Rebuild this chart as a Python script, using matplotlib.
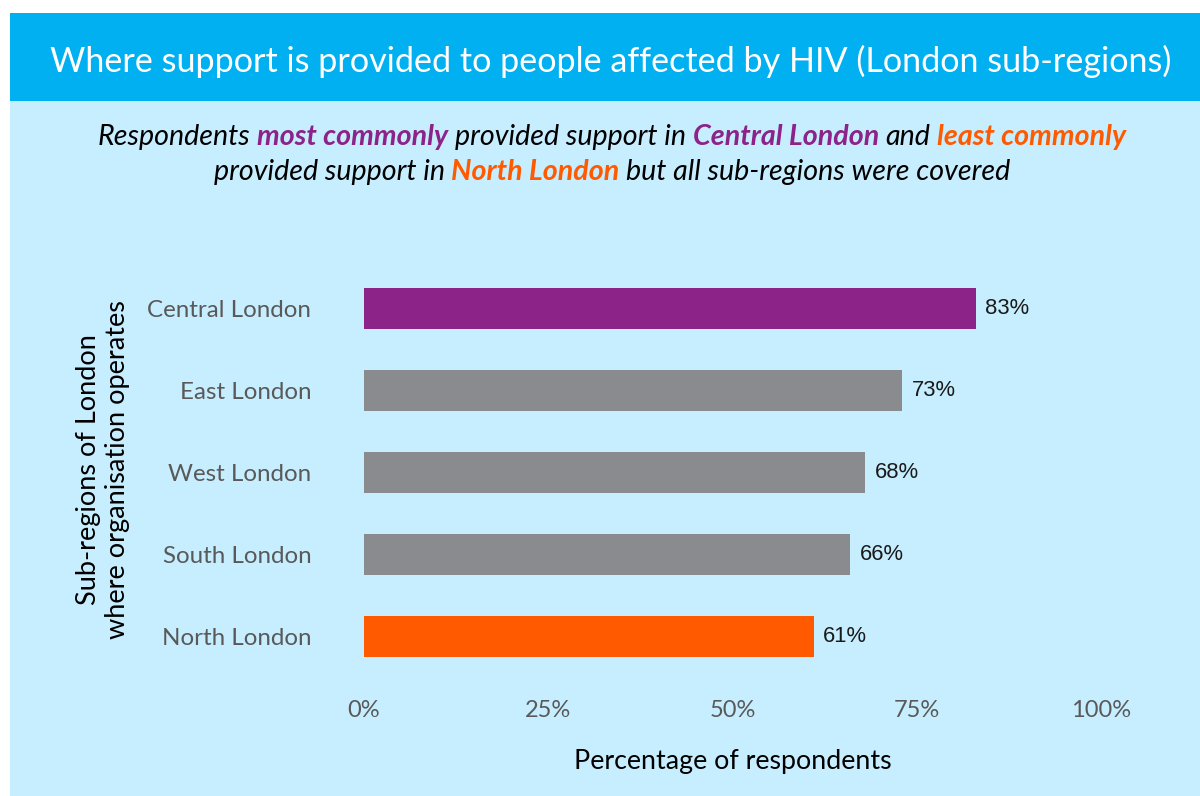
import matplotlib
matplotlib.use("Agg")
import matplotlib.pyplot as plt
from matplotlib.patches import Rectangle

# Data
categories = ["Central London", "East London", "West London", "South London", "North London"]
percentages = [83, 73, 68, 66, 61]
bar_colors = ["#8B2389", "#898B8E", "#898B8E", "#898B8E", "#FF5A00"]
x_ticks = [0, 25, 50, 75, 100]
x_tick_labels = ["0%", "25%", "50%", "75%", "100%"]

title = "Where support is provided to people affected by HIV (London sub-regions)"
x_label = "Percentage of respondents"
y_label = "Sub-regions of London\nwhere organisation operates"

PURPLE = "#8B2389"
ORANGE = "#FF5A00"
subtitle_lines = [
    [("Respondents", "black", "normal"), ("most commonly", PURPLE, "bold"),
     ("provided support in", "black", "normal"), ("Central London", PURPLE, "bold"),
     ("and", "black", "normal"), ("least commonly", ORANGE, "bold")],
    [("provided support in", "black", "normal"), ("North London", ORANGE, "bold"),
     ("but all sub-regions were covered", "black", "normal")],
]

FONT = "Lato"
plt.rcParams["font.family"] = [FONT, "DejaVu Sans"]

W, H = 1200, 796
fig = plt.figure(figsize=(W / 100, H / 100), dpi=100)
fig.patch.set_facecolor("white")

# Background panels
fig.add_artist(Rectangle((10 / W, 0), 1 - 10 / W, (H - 101) / H,
                         transform=fig.transFigure, facecolor="#C7EEFF", edgecolor="none", zorder=0))
fig.add_artist(Rectangle((10 / W, (H - 101) / H), 1 - 10 / W, 88 / H,
                         transform=fig.transFigure, facecolor="#00B0F0", edgecolor="none", zorder=0))
fig.text(611 / W, 1 - 61 / H, title, color="white", fontsize=24.6,
         ha="center", va="center")

# Bar chart
ax = fig.add_axes([364 / W, (H - 678) / H, 737 / W, 411 / H])
ax.set_facecolor("none")
y_pos = list(range(len(categories)))
ax.barh(y_pos, percentages, height=0.5, color=bar_colors)
for y, v in zip(y_pos, percentages):
    ax.text(v + 1.3, y, f"{v}%", va="center", ha="left", fontsize=15.8,
            family=["Liberation Sans", "DejaVu Sans"], color="#1a1a1a")
ax.set_xlim(0, 100)
ax.set_ylim(len(categories) - 0.5, -0.5)
ax.set_yticks(y_pos)
ax.set_yticklabels(categories, fontsize=17.4, color="#595959")
ax.set_xticks(x_ticks)
ax.set_xticklabels(x_tick_labels, fontsize=17, color="#595959")
ax.tick_params(axis="both", length=0)
ax.tick_params(axis="x", pad=16)
ax.tick_params(axis="y", pad=38)
for s in ax.spines.values():
    s.set_visible(False)
ax.set_xlabel(x_label, fontsize=19.3, color="black", labelpad=20)
fig.text(103 / W, 1 - 470 / H, y_label, rotation=90, fontsize=19.5, color="black",
         ha="center", va="center", multialignment="center", linespacing=1.2)

# Subtitle with coloured, bold phrases
fig.canvas.draw()
renderer = fig.canvas.get_renderer()
SUB_SIZE = 20.6


def text_width(s, weight):
    t = fig.text(0, 0, s, fontsize=SUB_SIZE, style="italic", weight=weight)
    w = t.get_window_extent(renderer).width
    t.remove()
    return w


space_w = text_width("x x", "normal") - text_width("xx", "normal")
for line, y_px in zip(subtitle_lines, [137, 172]):
    widths = [text_width(s, wt) for s, _, wt in line]
    total = sum(widths) + space_w * (len(line) - 1)
    x = 612 - total / 2
    for (s, c, wt), w in zip(line, widths):
        fig.text(x / W, 1 - y_px / H, s, fontsize=SUB_SIZE, style="italic", weight=wt,
                 color=c, ha="left", va="center")
        x += w + space_w

fig.savefig("out.png", dpi=100, facecolor="white")
